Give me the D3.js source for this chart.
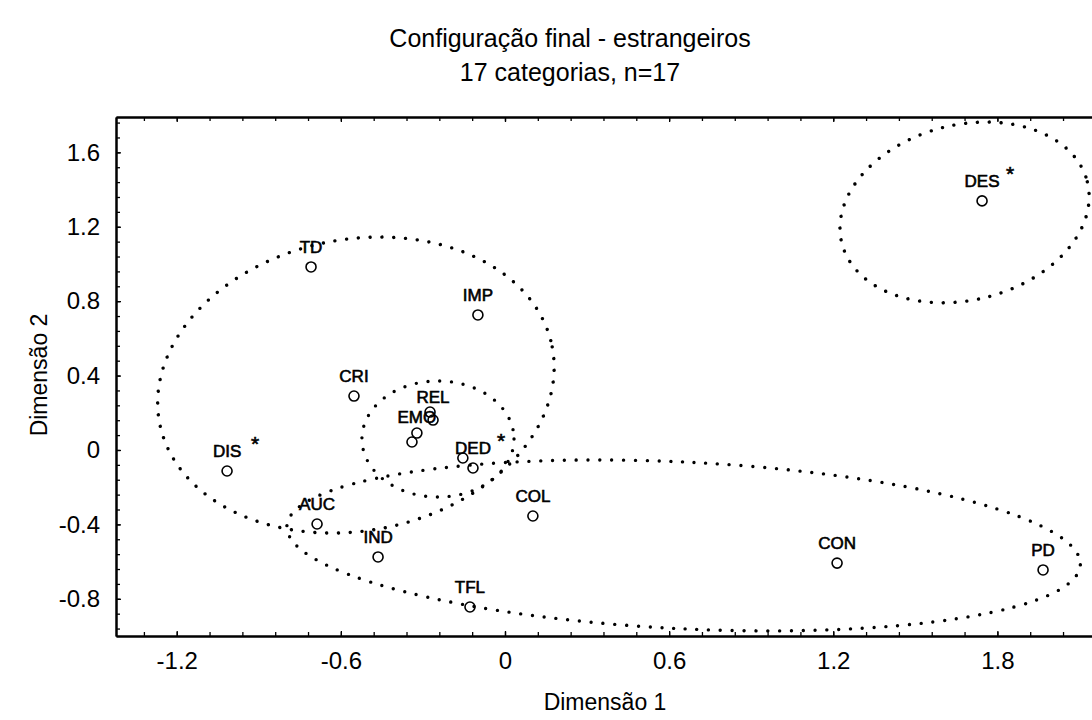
<!DOCTYPE html>
<html>
<head>
<meta charset="utf-8">
<script src="https://cdn.jsdelivr.net/npm/d3@7/dist/d3.min.js"></script>
<style>
  html, body { margin: 0; padding: 0; background: #fff; }
  svg { display: block; font-family: "Liberation Sans", Arial, sans-serif; }
</style>
</head>
<body>
<svg id="chart" width="1092" height="720"></svg>
<script>
// ---------------- data ----------------
const titleLines = ["Configuração final - estrangeiros", "17 categorias, n=17"];
const xAxisTitle = "Dimensão 1";
const yAxisTitle = "Dimensão 2";

const categories = ["TD", "IMP", "CRI", "REL", "", "EMO", "", "", "DED", "DIS", "AUC", "IND", "COL", "TFL", "CON", "PD", "DES"];
const dim1 = [-0.709, -0.099, -0.552, -0.263, -0.274, -0.322, -0.340, -0.154, -0.117, -1.016, -0.687, -0.464, 0.102, -0.128, 1.214, 1.967, 1.744];
const dim2 = [0.984, 0.726, 0.290, 0.161, 0.204, 0.091, 0.043, -0.043, -0.097, -0.113, -0.398, -0.575, -0.355, -0.844, -0.608, -0.645, 1.339];
const starred = ["DIS", "DED", "DES"];

const xTicks = [-1.2, -0.6, 0, 0.6, 1.2, 1.8];
const yTicks = [-0.8, -0.4, 0, 0.4, 0.8, 1.2, 1.6];
const xMinorStep = 0.12;
const yMinorStep = 0.08;

// cluster ellipses (centre and semi-axes in data units, tilt in degrees)
const ellipseCx = [-0.545, -0.245, 1.680, 0.653];
const ellipseCy = [0.349, 0.059, 1.277, -0.513];
const ellipseRx = [0.731, 0.278, 0.4625, 1.452];
const ellipseRy = [0.783, 0.312, 0.471, 0.448];
const ellipseTilt = [11, 0, 14, -2.8];

// ---------------- layout ----------------
const svg = d3.select("#chart");
const x = d3.scaleLinear().domain([-1.422, 2.2]).range([116, 1106.8]);
const y = d3.scaleLinear().domain([-1.0, 1.79]).range([636, 117]);
const kx = (x(1) - x(0));
const ky = (y(0) - y(1));

// titles
svg.append("text").attr("x", 570).attr("y", 47).attr("text-anchor", "middle")
  .attr("font-size", 25).text(titleLines[0]);
svg.append("text").attr("x", 570).attr("y", 81).attr("text-anchor", "middle")
  .attr("font-size", 25).text(titleLines[1]);

// minor tick values
const xMinor = d3.range(-1.44, 2.2, xMinorStep).map(v => +v.toFixed(2)).filter(v => v > -1.422 && v < 2.2);
const yMinor = d3.range(-0.96, 1.79, yMinorStep).map(v => +v.toFixed(2)).filter(v => v > -1.0 && v < 1.79);

const fmt = d => d3.format("")(d).replace("\u2212", "-");
const gAxes = svg.append("g");
// bottom
gAxes.append("g").attr("transform", `translate(0,${y(-1.0)})`)
  .call(d3.axisBottom(x).tickValues(xMinor).tickSize(-4).tickSizeOuter(0).tickFormat(""));
gAxes.append("g").attr("transform", `translate(0,${y(-1.0)})`)
  .call(d3.axisBottom(x).tickValues(xTicks).tickSize(-5).tickSizeOuter(0).tickPadding(16).tickFormat(fmt));
// top
gAxes.append("g").attr("transform", `translate(0,${y(1.79)})`)
  .call(d3.axisTop(x).tickValues(xMinor).tickSize(-4).tickSizeOuter(0).tickFormat(""));
gAxes.append("g").attr("transform", `translate(0,${y(1.79)})`)
  .call(d3.axisTop(x).tickValues(xTicks).tickSize(-5).tickSizeOuter(0).tickFormat(""));
// left
gAxes.append("g").attr("transform", `translate(${x(-1.422)},0)`)
  .call(d3.axisLeft(y).tickValues(yMinor).tickSize(-4).tickSizeOuter(0).tickFormat(""));
gAxes.append("g").attr("transform", `translate(${x(-1.422)},0)`)
  .call(d3.axisLeft(y).tickValues(yTicks).tickSize(-5).tickSizeOuter(0).tickPadding(16).tickFormat(fmt));

gAxes.selectAll(".domain").attr("stroke", "#000").attr("stroke-width", 2);
gAxes.selectAll(".tick line").attr("stroke", "#000").attr("stroke-width", 1.3);
gAxes.selectAll(".tick text").attr("font-size", 24).attr("fill", "#000")
  .attr("font-family", "'Liberation Sans', Arial, sans-serif");

// axis titles
svg.append("text").attr("x", 605).attr("y", 710).attr("text-anchor", "middle")
  .attr("font-size", 23).text(xAxisTitle);
svg.append("text").attr("transform", `translate(47,375) rotate(-90)`).attr("text-anchor", "middle")
  .attr("font-size", 23).text(yAxisTitle);

// ellipses (dotted)
const ellipses = ellipseCx.map((cx, i) => ({cx, cy: ellipseCy[i], rx: ellipseRx[i], ry: ellipseRy[i], tilt: ellipseTilt[i]}));
svg.append("g").selectAll("ellipse").data(ellipses).join("ellipse")
  .attr("cx", 0).attr("cy", 0)
  .attr("rx", d => d.rx * kx).attr("ry", d => d.ry * ky)
  .attr("transform", d => `translate(${x(d.cx)},${y(d.cy)}) rotate(${-d.tilt})`)
  .attr("fill", "none").attr("stroke", "#000").attr("stroke-width", 3.4)
  .attr("stroke-linecap", "round").attr("stroke-dasharray", "0 11.8");

// points
const pts = categories.map((c, i) => ({label: c, d1: dim1[i], d2: dim2[i]}));
const gp = svg.append("g");
gp.selectAll("circle").data(pts).join("circle")
  .attr("cx", d => x(d.d1)).attr("cy", d => y(d.d2)).attr("r", 5)
  .attr("fill", "none").attr("stroke", "#000").attr("stroke-width", 1.6);

const labels = gp.selectAll("text.lbl").data(pts.filter(d => d.label)).join("text")
  .attr("class", "lbl")
  .attr("x", d => x(d.d1)).attr("y", d => y(d.d2) - 14)
  .attr("text-anchor", "middle").attr("font-size", 17)
  .attr("stroke", "#000").attr("stroke-width", 0.6)
  .text(d => d.label);

// simple vertical collision avoidance between point labels
const nodes = labels.nodes();
for (let pass = 0; pass < 3; pass++) {
  for (let i = 0; i < nodes.length; i++) {
    for (let j = i + 1; j < nodes.length; j++) {
      const a = nodes[i].getBBox(), b = nodes[j].getBBox();
      const ox = Math.min(a.x + a.width, b.x + b.width) - Math.max(a.x, b.x);
      const oy = Math.min(a.y + a.height, b.y + b.height) - Math.max(a.y, b.y);
      if (ox > 0 && oy > 0) {
        const shift = (oy + 1) / 2;
        const upper = a.y <= b.y ? nodes[i] : nodes[j];
        const lower = upper === nodes[i] ? nodes[j] : nodes[i];
        upper.setAttribute("y", +upper.getAttribute("y") - shift);
        lower.setAttribute("y", +lower.getAttribute("y") + shift);
      }
    }
  }
}

gp.selectAll("text.star").data(pts.filter(d => starred.includes(d.label))).join("text")
  .attr("class", "star")
  .attr("x", d => x(d.d1) + 28).attr("y", d => y(d.d2) - 20)
  .attr("text-anchor", "middle").attr("font-size", 21)
  .attr("stroke", "#000").attr("stroke-width", 0.6)
  .text("*");
</script>
</body>
</html>
